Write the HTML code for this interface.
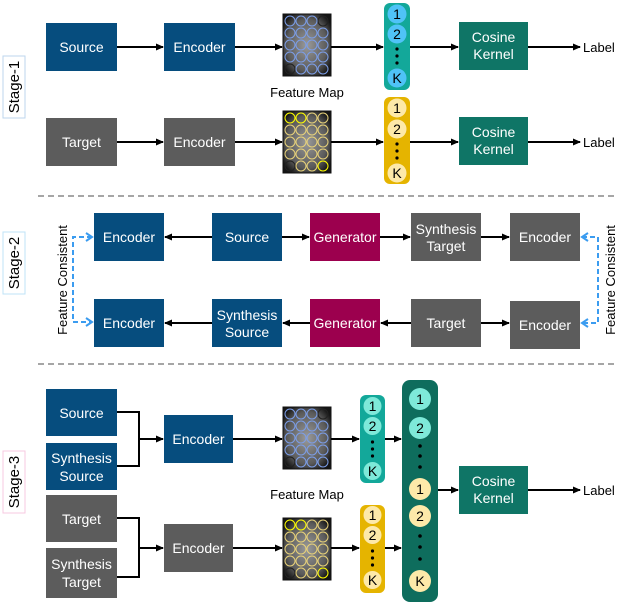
<!DOCTYPE html>
<html><head><meta charset="utf-8"><style>
html,body{margin:0;padding:0;background:#fff}
svg{display:block}
text{font-family:"Liberation Sans",Arial,sans-serif}
</style></head><body>
<svg width="623" height="606" viewBox="0 0 623 606" xmlns="http://www.w3.org/2000/svg">
<defs>
<marker id="ah" markerWidth="8" markerHeight="8" refX="7" refY="4" orient="auto" markerUnits="userSpaceOnUse"><path d="M0,0.5 L8,4 L0,7.5 z" fill="#000"/></marker>
<radialGradient id="fg" cx="50%" cy="50%" r="60%"><stop offset="0" stop-color="#9a9a9a"/><stop offset="0.7" stop-color="#5a5a5a"/><stop offset="1" stop-color="#151515"/></radialGradient>
<g id="fmb">
<rect x="0" y="0" width="48" height="62" fill="url(#fg)" stroke="#111" stroke-width="1"/>
<g fill="none" stroke="#7c9ee8" stroke-width="1">
<circle cx="7" cy="7" r="5"/><circle cx="18" cy="7" r="5"/><circle cx="29" cy="7" r="5"/><circle cx="40" cy="7" r="5" stroke="#222"/>
<circle cx="7" cy="19" r="5"/><circle cx="18" cy="19" r="5"/><circle cx="29" cy="19" r="5"/><circle cx="40" cy="19" r="5"/>
<circle cx="7" cy="31" r="5"/><circle cx="18" cy="31" r="5"/><circle cx="29" cy="31" r="5"/><circle cx="40" cy="31" r="5"/>
<circle cx="7" cy="43" r="5"/><circle cx="18" cy="43" r="5"/><circle cx="29" cy="43" r="5"/><circle cx="40" cy="43" r="5"/>
<circle cx="7" cy="55" r="5" stroke="#222"/><circle cx="18" cy="55" r="5"/><circle cx="29" cy="55" r="5"/><circle cx="40" cy="55" r="5"/>
</g></g>
<g id="fmy">
<rect x="0" y="0" width="48" height="62" fill="url(#fg)" stroke="#111" stroke-width="1"/>
<g fill="none" stroke="#e8d27a" stroke-width="1">
<circle cx="7" cy="7" r="5" stroke="#ff0"/><circle cx="18" cy="7" r="5" stroke="#ff0"/><circle cx="29" cy="7" r="5"/><circle cx="40" cy="7" r="5"/>
<circle cx="7" cy="19" r="5"/><circle cx="18" cy="19" r="5"/><circle cx="29" cy="19" r="5"/><circle cx="40" cy="19" r="5"/>
<circle cx="7" cy="31" r="5"/><circle cx="18" cy="31" r="5"/><circle cx="29" cy="31" r="5"/><circle cx="40" cy="31" r="5"/>
<circle cx="7" cy="43" r="5"/><circle cx="18" cy="43" r="5"/><circle cx="29" cy="43" r="5"/><circle cx="40" cy="43" r="5"/>
<circle cx="7" cy="55" r="5" stroke="#222"/><circle cx="18" cy="55" r="5"/><circle cx="29" cy="55" r="5"/><circle cx="40" cy="55" r="5" stroke="#ff0"/>
</g></g>
</defs>

<g font-size="14" fill="#fff" text-anchor="middle">
<rect x="46" y="23" width="71" height="48" fill="#064d7e"/><text x="81.5" y="52">Source</text>
<rect x="164" y="23" width="71" height="48" fill="#064d7e"/><text x="199.5" y="52">Encoder</text>
<rect x="46" y="118" width="71" height="48" fill="#5c5c5c"/><text x="81.5" y="147">Target</text>
<rect x="164" y="118" width="71" height="48" fill="#5c5c5c"/><text x="199.5" y="147">Encoder</text>
<rect x="459" y="22" width="69" height="48" fill="#0f7566"/><text x="493.5" y="42">Cosine</text><text x="493.5" y="59">Kernel</text>
<rect x="459" y="117" width="69" height="48" fill="#0f7566"/><text x="493.5" y="137">Cosine</text><text x="493.5" y="154">Kernel</text>

<rect x="94" y="213" width="70" height="48" fill="#064d7e"/><text x="129" y="242">Encoder</text>
<rect x="212" y="213" width="70" height="48" fill="#064d7e"/><text x="247" y="242">Source</text>
<rect x="310" y="213" width="70" height="48" fill="#9c004e"/><text x="345" y="242">Generator</text>
<rect x="411" y="213" width="70" height="48" fill="#5c5c5c"/><text x="446" y="234">Synthesis</text><text x="446" y="251">Target</text>
<rect x="510" y="213" width="70" height="48" fill="#5c5c5c"/><text x="545" y="242">Encoder</text>
<rect x="94" y="299" width="70" height="48" fill="#064d7e"/><text x="129" y="328">Encoder</text>
<rect x="212" y="299" width="70" height="48" fill="#064d7e"/><text x="247" y="320">Synthesis</text><text x="247" y="337">Source</text>
<rect x="310" y="299" width="70" height="48" fill="#9c004e"/><text x="345" y="328">Generator</text>
<rect x="411" y="299" width="70" height="48" fill="#5c5c5c"/><text x="446" y="328">Target</text>
<rect x="510" y="301" width="70" height="48" fill="#5c5c5c"/><text x="545" y="330">Encoder</text>

<rect x="46" y="389" width="71" height="47" fill="#064d7e"/><text x="81.5" y="418">Source</text>
<rect x="46" y="443" width="71" height="47" fill="#064d7e"/><text x="81.5" y="463">Synthesis</text><text x="81.5" y="481">Source</text>
<rect x="164" y="415" width="69" height="48" fill="#064d7e"/><text x="198.5" y="444">Encoder</text>
<rect x="46" y="495" width="71" height="47" fill="#5c5c5c"/><text x="81.5" y="524">Target</text>
<rect x="46" y="548" width="71" height="50" fill="#5c5c5c"/><text x="81.5" y="569">Synthesis</text><text x="81.5" y="587">Target</text>
<rect x="164" y="524" width="69" height="48" fill="#5c5c5c"/><text x="198.5" y="553">Encoder</text>
<rect x="459" y="466" width="69" height="48" fill="#0f7566"/><text x="493.5" y="486">Cosine</text><text x="493.5" y="503">Kernel</text>
</g>

<use href="#fmb" x="283" y="14"/>
<use href="#fmy" x="283" y="111"/>
<use href="#fmb" x="283" y="407"/>
<use href="#fmy" x="283" y="518"/>

<g font-size="14" fill="#000" text-anchor="middle">
<rect x="384" y="3" width="26" height="87" rx="6" fill="#13a89a"/>
<circle cx="397" cy="14" r="9.5" fill="#4fc3f7"/><text x="397" y="19">1</text>
<circle cx="397" cy="34" r="9.5" fill="#4fc3f7"/><text x="397" y="39">2</text>
<circle cx="397" cy="49" r="1.6"/><circle cx="397" cy="56" r="1.6"/><circle cx="397" cy="63" r="1.6"/>
<circle cx="397" cy="78" r="9.5" fill="#4fc3f7"/><text x="397" y="83">K</text>

<rect x="384" y="97" width="26" height="87" rx="6" fill="#e5b400"/>
<circle cx="397" cy="108" r="9.5" fill="#fde9a9"/><text x="397" y="113">1</text>
<circle cx="397" cy="129" r="9.5" fill="#fde9a9"/><text x="397" y="134">2</text>
<circle cx="397" cy="144" r="1.6"/><circle cx="397" cy="151" r="1.6"/><circle cx="397" cy="158" r="1.6"/>
<circle cx="397" cy="173" r="9.5" fill="#fde9a9"/><text x="397" y="178">K</text>

<rect x="360" y="395" width="25" height="88" rx="6" fill="#13a89a"/>
<circle cx="372.5" cy="406" r="9" fill="#7ee9d9"/><text x="372.5" y="411">1</text>
<circle cx="372.5" cy="426" r="9" fill="#7ee9d9"/><text x="372.5" y="431">2</text>
<circle cx="372.5" cy="442" r="1.6"/><circle cx="372.5" cy="449" r="1.6"/><circle cx="372.5" cy="456" r="1.6"/>
<circle cx="372.5" cy="471" r="9" fill="#7ee9d9"/><text x="372.5" y="476">K</text>

<rect x="360" y="505" width="25" height="88" rx="6" fill="#e5b400"/>
<circle cx="372.5" cy="515" r="9" fill="#fde9a9"/><text x="372.5" y="520">1</text>
<circle cx="372.5" cy="535" r="9" fill="#fde9a9"/><text x="372.5" y="540">2</text>
<circle cx="372.5" cy="551" r="1.6"/><circle cx="372.5" cy="558" r="1.6"/><circle cx="372.5" cy="565" r="1.6"/>
<circle cx="372.5" cy="580" r="9" fill="#fde9a9"/><text x="372.5" y="585">K</text>

<rect x="402" y="380" width="36" height="222" rx="8" fill="#0e6d5d"/>
<circle cx="420" cy="399" r="11" fill="#7ee9d9"/><text x="420" y="404">1</text>
<circle cx="420" cy="428" r="11" fill="#7ee9d9"/><text x="420" y="433">2</text>
<circle cx="420" cy="446" r="1.8"/><circle cx="420" cy="456" r="1.8"/><circle cx="420" cy="467" r="1.8"/>
<circle cx="420" cy="489" r="11" fill="#fde9a9"/><text x="420" y="494">1</text>
<circle cx="420" cy="516" r="11" fill="#fde9a9"/><text x="420" y="521">2</text>
<circle cx="420" cy="536" r="1.8"/><circle cx="420" cy="547" r="1.8"/><circle cx="420" cy="559" r="1.8"/>
<circle cx="420" cy="581" r="11" fill="#fde9a9"/><text x="420" y="586">K</text>
</g>

<g stroke="#000" stroke-width="2" fill="none" marker-end="url(#ah)">
<line x1="117" y1="47" x2="163" y2="47"/>
<line x1="235" y1="47" x2="282" y2="47"/>
<line x1="331" y1="47" x2="383" y2="47"/>
<line x1="410" y1="47" x2="458" y2="47"/>
<line x1="528" y1="47" x2="580" y2="47"/>
<line x1="117" y1="142" x2="163" y2="142"/>
<line x1="235" y1="142" x2="282" y2="142"/>
<line x1="331" y1="142" x2="383" y2="142"/>
<line x1="410" y1="142" x2="458" y2="142"/>
<line x1="528" y1="142" x2="580" y2="142"/>

<line x1="212" y1="237" x2="165" y2="237"/>
<line x1="282" y1="237" x2="309" y2="237"/>
<line x1="380" y1="237" x2="410" y2="237"/>
<line x1="481" y1="237" x2="509" y2="237"/>
<line x1="212" y1="323" x2="165" y2="323"/>
<line x1="310" y1="323" x2="283" y2="323"/>
<line x1="411" y1="323" x2="381" y2="323"/>
<line x1="481" y1="323" x2="509" y2="323"/>

<polyline points="117,412 139,412 139,466 117,466" marker-end="none"/>
<line x1="139" y1="439" x2="163" y2="439"/>
<polyline points="117,518 139,518 139,577 117,577" marker-end="none"/>
<line x1="139" y1="548" x2="163" y2="548"/>
<line x1="233" y1="439" x2="282" y2="439"/>
<line x1="233" y1="548" x2="282" y2="548"/>
<line x1="331" y1="439" x2="359" y2="439"/>
<line x1="331" y1="548" x2="359" y2="548"/>
<line x1="385" y1="439" x2="401" y2="439"/>
<line x1="385" y1="548" x2="401" y2="548"/>
<line x1="438" y1="490" x2="458" y2="490"/>
<line x1="528" y1="490" x2="580" y2="490"/>
</g>

<g stroke="#3b9cf0" stroke-width="2" fill="none" stroke-dasharray="5,3">
<polyline points="92,237 73,237 73,322 92,322"/>
<polyline points="582,237 598,237 598,323 582,323"/>
</g>
<g stroke="#3b9cf0" stroke-width="2" fill="none">
<polyline points="86,233 92,237 86,241"/><polyline points="86,318 92,322 86,326"/>
<polyline points="588,233 582,237 588,241"/><polyline points="588,319 582,323 588,327"/>
</g>

<g font-size="13" fill="#000">
<text x="583" y="52">Label</text>
<text x="583" y="147">Label</text>
<text x="583" y="495">Label</text>
<text x="307" y="97" text-anchor="middle">Feature Map</text>
<text x="307" y="499" text-anchor="middle">Feature Map</text>
<text transform="translate(67,280) rotate(-90)" text-anchor="middle">Feature Consistent</text>
<text transform="translate(615,280) rotate(-90)" text-anchor="middle">Feature Consistent</text>
</g>

<rect x="3" y="56" width="22" height="62" fill="#fff" stroke="#bcd6ee" stroke-width="1"/>
<text transform="translate(19,87) rotate(-90)" text-anchor="middle" font-size="15">Stage-1</text>
<rect x="3" y="232" width="22" height="62" fill="#fff" stroke="#bfe3f7" stroke-width="1"/>
<text transform="translate(19,263) rotate(-90)" text-anchor="middle" font-size="15">Stage-2</text>
<rect x="3" y="451" width="22" height="62" fill="#fff" stroke="#f7c9e0" stroke-width="1"/>
<text transform="translate(19,482) rotate(-90)" text-anchor="middle" font-size="15">Stage-3</text>

<line x1="38" y1="196" x2="616" y2="196" stroke="#888" stroke-width="1.5" stroke-dasharray="6,4"/>
<line x1="38" y1="364" x2="616" y2="364" stroke="#888" stroke-width="1.5" stroke-dasharray="6,4"/>
</svg>
</body></html>
